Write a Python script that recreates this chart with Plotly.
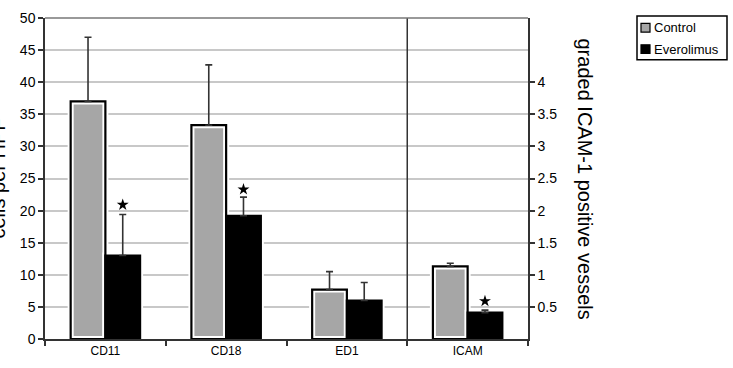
import plotly.graph_objects as go

categories_left = ["CD11", "CD18", "ED1"]
control_left = [37.0, 33.3, 7.7]
control_left_err = [10.0, 9.4, 2.8]
evero_left = [13.0, 19.2, 6.0]
evero_left_err = [6.4, 2.9, 2.8]

categories_right = ["ICAM"]
control_right = [1.13]
control_right_err = [0.05]
evero_right = [0.41]
evero_right_err = [0.04]

star_left_cats = ["CD11", "CD18"]
star_left_vals = [20.9, 23.3]
star_right_cats = ["ICAM"]
star_right_vals = [0.59]

series_names = ["Control", "Everolimus"]

left_ticks = list(range(0, 55, 5))
right_ticks = [0.5, 1, 1.5, 2, 2.5, 3, 3.5, 4]
right_ticktext = ["0.5", "1", "1.5", "2", "2.5", "3", "3.5", "4"]

GRAY = "#a6a6a6"
FONT = "Liberation Sans, Arial, sans-serif"

# plot area in pixels (for layout helpers only)
L, R, T, B = 45, 528, 10, 340


def px(x):
    return (x - L) / (R - L)


def py(y):
    return (B - y) / (B - T)


def err(a):
    return dict(type="data", array=a, arrayminus=[0] * len(a), symmetric=False,
                color="#333333", thickness=1.6, width=3.5)


fig = go.Figure()
groups = [
    (categories_left, control_left, control_left_err, "c", GRAY, "y"),
    (categories_right, control_right, control_right_err, "c", GRAY, "y2"),
    (categories_left, evero_left, evero_left_err, "e", "black", "y"),
    (categories_right, evero_right, evero_right_err, "e", "black", "y2"),
]
# base bars with white halo
for cats, vals, e, og, col, ax in groups:
    fig.add_trace(go.Bar(x=cats, y=vals, offsetgroup=og, yaxis=ax, showlegend=False,
                         marker=dict(color=col, line=dict(color="white", width=6)),
                         hoverinfo="skip"))
# overlay outlines + error bars
for cats, vals, e, og, col, ax in groups:
    fill = "rgba(0,0,0,0)" if og == "c" else "black"
    fig.add_trace(go.Bar(x=cats, y=vals, offsetgroup=og, yaxis=ax, showlegend=False,
                         name=series_names[0] if og == "c" else series_names[1],
                         marker=dict(color=fill, line=dict(color="black", width=2.2)),
                         error_y=err(e)))

# star markers, grouped like the bars
fig.add_trace(go.Scatter(x=categories_left, y=[None] * len(categories_left), mode="markers",
                         offsetgroup="c", showlegend=False, hoverinfo="skip"))
fig.add_trace(go.Scatter(x=star_left_cats, y=star_left_vals, mode="markers", offsetgroup="e",
                         marker=dict(symbol="star", size=9, color="black"),
                         showlegend=False))
fig.add_trace(go.Scatter(x=categories_right, y=[None], mode="markers", yaxis="y2",
                         offsetgroup="c", showlegend=False, hoverinfo="skip"))
fig.add_trace(go.Scatter(x=star_right_cats, y=star_right_vals, mode="markers", offsetgroup="e",
                         yaxis="y2", marker=dict(symbol="star", size=9, color="black"),
                         showlegend=False))

# separator between left-axis and right-axis categories
fig.add_shape(type="line", xref="x", yref="paper", x0=2.5, x1=2.5, y0=0, y1=1,
              line=dict(color="#333333", width=1.5))
# top border
fig.add_shape(type="line", xref="paper", yref="paper", x0=0, x1=1, y0=1, y1=1,
              line=dict(color="#777777", width=1.5))

# axis titles
fig.add_annotation(text="cells per HPF", xref="paper", yref="paper", x=0, y=0.5,
                   xanchor="center", yanchor="middle", xshift=-48, textangle=-90,
                   showarrow=False, font=dict(size=20, color="black", family=FONT))
fig.add_annotation(text="graded ICAM-1 positive vessels", xref="paper", yref="paper",
                   x=1, y=0.5, xanchor="center", yanchor="middle", xshift=57,
                   textangle=90, showarrow=False,
                   font=dict(size=20, color="black", family=FONT))

# legend box drawn by hand
fig.add_shape(type="rect", xref="paper", yref="paper", x0=px(637), x1=px(727),
              y0=py(53), y1=py(8), line=dict(color="black", width=1.5),
              fillcolor="white")
for i, (name, col) in enumerate(zip(series_names, [GRAY, "black"])):
    cy = 20 + 22 * i
    fig.add_shape(type="rect", xref="paper", yref="paper", x0=px(641), x1=px(650),
                  y0=py(cy + 4.5), y1=py(cy - 4.5), line=dict(color="black", width=1.2),
                  fillcolor=col)
    fig.add_annotation(text=name, xref="paper", yref="paper", x=px(652), y=py(cy),
                       xanchor="left", yanchor="middle", showarrow=False,
                       font=dict(size=13, color="black", family=FONT))

fig.update_layout(
    width=733, height=368,
    margin=dict(l=L, r=733 - R, t=T, b=368 - B),
    paper_bgcolor="white", plot_bgcolor="white",
    barmode="group", bargap=0.425, bargroupgap=0,
    scattermode="group",
    font=dict(family=FONT, size=14, color="black"),
    xaxis=dict(type="category", categoryorder="array",
               categoryarray=categories_left + categories_right,
               tickson="boundaries", ticks="outside", ticklen=5, tickwidth=1.5,
               tickcolor="#333333", showline=True, linecolor="#333333", linewidth=1.5,
               showgrid=False, tickfont=dict(size=12)),
    yaxis=dict(range=[0, 50], tickvals=left_ticks, ticks="outside", ticklen=5,
               tickwidth=1.5, tickcolor="#333333", showline=True, linecolor="#333333",
               linewidth=1.5, showgrid=True, gridcolor="#c8c8c8", gridwidth=1.5,
               zeroline=False, tickfont=dict(size=14)),
    yaxis2=dict(range=[0, 5], overlaying="y", side="right", anchor="x",
                tickvals=right_ticks, ticktext=right_ticktext, ticks="outside",
                ticklen=5, tickwidth=1.5, tickcolor="#333333", showline=True,
                linecolor="#333333", linewidth=1.5, showgrid=False, zeroline=False,
                tickfont=dict(size=14)),
    showlegend=False,
)

fig.write_html("out.html")
